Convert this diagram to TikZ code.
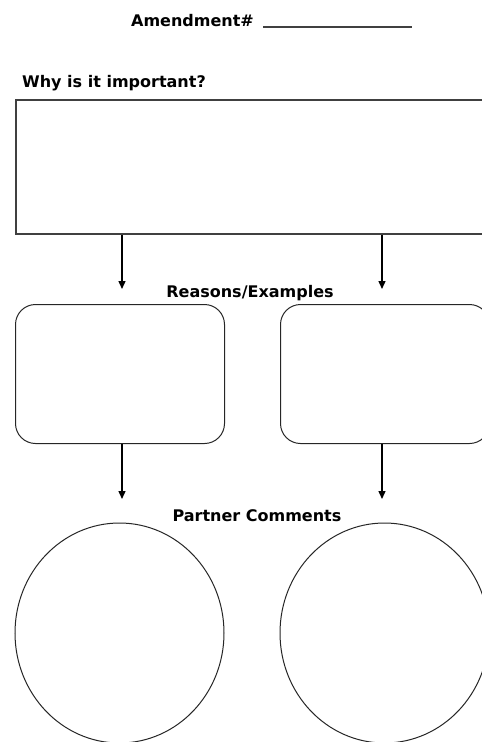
\documentclass[tikz,border=0pt]{standalone}
\usepackage{fontspec}
\setmainfont{DejaVu Sans}
\usetikzlibrary{positioning,arrows.meta,shapes.geometric}

\tikzset{
  heading/.style={font=\fontsize{16}{18}\selectfont\bfseries, inner sep=0pt, anchor=base},
  bigbox/.style={draw=black!75, line width=1.6pt, rectangle, anchor=north west,
    minimum width=475pt, minimum height=134pt, inner sep=0pt},
  roundbox/.style={draw=black!85, line width=1pt, rectangle, rounded corners=20pt,
    anchor=north west, minimum width=209pt, minimum height=139pt, inner sep=0pt},
  bubble/.style={draw=black!85, line width=1pt, ellipse, inner sep=0pt,
    minimum width=209pt, minimum height=220pt},
  down/.style={->, line width=1.4pt}
}

\begin{document}
\begin{tikzpicture}[x=1pt, y=-1pt, >={Triangle[width=7pt,length=8pt]}]

\useasboundingbox (0,0) rectangle (482,742);

% Title with blank line
\node[heading] (title) at (192.5,26) {Amendment\#};
\coordinate (blankL) at (263,27);
\coordinate (blankR) at (412,27);
\draw[line width=1.6pt, black!75] (blankL) -- (blankR);

% Question box
\node[heading, anchor=base west] (why) at (22,87) {Why is it important?};
\node[bigbox] (top) at (15,99) {};

% Arrow ends
\coordinate (endA) at (122,289);
\coordinate (endB) at (382,289);
\coordinate (endC) at (122,499);
\coordinate (endD) at (382,499);

% Arrows to reasons
\draw[down] (top.south -| endA) -- (endA);
\draw[down] (top.south -| endB) -- (endB);

% Reasons/Examples
\node[heading] (reasons) at (250,297) {Reasons/Examples};
\node[roundbox] (reasonA) at (15,304) {};
\node[roundbox] (reasonB) at (280,304) {};

% Arrows to comments
\draw[down] (reasonA.south -| endC) -- (endC);
\draw[down] (reasonB.south -| endD) -- (endD);

% Partner Comments
\node[heading] (partner) at (257,521) {Partner Comments};
\node[bubble] (commentA) at (119.5,633) {};
\node[bubble] (commentB) at (384.5,633) {};

\end{tikzpicture}
\end{document}
